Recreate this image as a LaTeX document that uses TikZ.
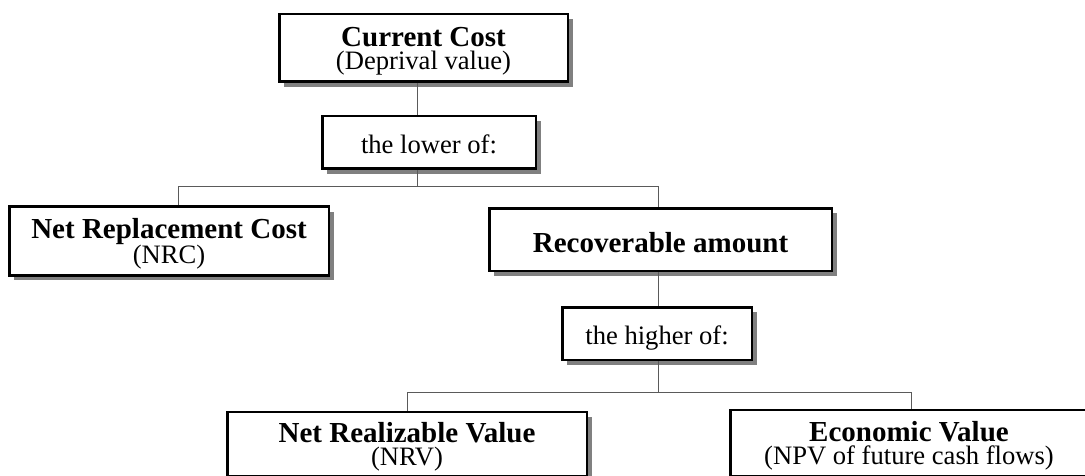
\documentclass[tikz,border=0pt]{standalone}
\usepackage{fontspec}
\setmainfont{Liberation Serif}
\usetikzlibrary{shadows}
\definecolor{shadowgray}{RGB}{128,128,128}
\definecolor{conngray}{RGB}{90,90,90}
\newcommand\boldline[1]{{\fontsize{29}{23}\selectfont\bfseries\rule{0pt}{26pt}#1}}
\newcommand\plainline[1]{\rule[-5pt]{0pt}{32pt}#1}
\tikzset{
  box/.style={draw=black, line width=2.5pt, fill=white, inner sep=0pt, align=center,
    font=\fontsize{26.6}{23}\selectfont,
    drop shadow={shadow xshift=5pt, shadow yshift=-5pt, fill=shadowgray, opacity=1}},
  conn/.style={draw=conngray, line width=1pt}
}
\begin{document}
\begin{tikzpicture}[x=1pt,y=-1pt]
\useasboundingbox (0,0) rectangle (1085,476);
\clip (0,0) rectangle (1085,476);
% boxes
\node[box, minimum width=288.5pt, minimum height=67.5pt] (cc) at (423.5,48) {\boldline{Current Cost}\\(Deprival value)};
\node[box, minimum width=213.5pt, minimum height=52.5pt] (lo) at (429,142.5) {\plainline{the lower of:}};
\node[box, minimum width=319.5pt, minimum height=68.5pt] (nrc) at (169,241) {\boldline{Net Replacement Cost}\\(NRC)};
\node[box, minimum width=342.5pt, minimum height=62.5pt] (ra) at (660.5,239.5) {\boldline{Recoverable amount}};
\node[box, minimum width=189.5pt, minimum height=52.5pt] (hi) at (657,333.5) {\plainline{the higher of:}};
\node[box, minimum width=359.5pt, minimum height=64pt] (nrv) at (407,444) {\boldline{Net Realizable Value}\\(NRV)};
\node[box, minimum width=357.5pt, minimum height=66pt] (ev) at (909,443) {\boldline{Economic Value}\\(NPV of future cash flows)};
% junction coordinates
\coordinate (s1) at (417,187);
\coordinate (j1) at (178,187);
\coordinate (j2) at (658,187);
\coordinate (j3) at (658,392);
\coordinate (j4) at (407,392);
\coordinate (j5) at (911,392);
% connectors
\draw[conn] (cc.south -| s1) -- (lo.north -| s1);
\draw[conn] (lo.south -| s1) -- (s1);
\draw[conn] (j1 |- nrc.north) -- (j1) -- (j2) -- (j2 |- ra.north);
\draw[conn] (ra.south -| j2) -- (hi.north -| j2);
\draw[conn] (hi.south -| j3) -- (j3);
\draw[conn] (j4 |- nrv.north) -- (j4) -- (j5) -- (j5 |- ev.north);
\end{tikzpicture}
\end{document}
